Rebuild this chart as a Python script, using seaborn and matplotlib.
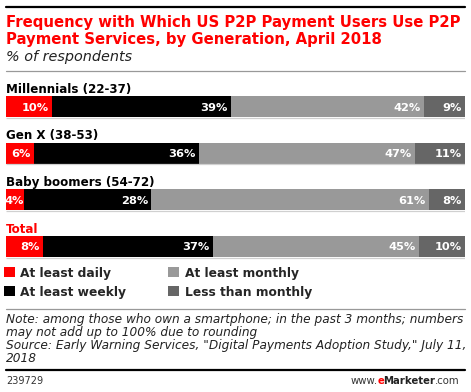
import numpy as np
import pandas as pd
import seaborn as sns
import matplotlib.pyplot as plt
from matplotlib.lines import Line2D
from matplotlib.patches import Patch

# data
groups = ["Millennials (22-37)", "Gen X (38-53)", "Baby boomers (54-72)", "Total"]
daily = [10, 6, 4, 8]
weekly = [39, 36, 28, 37]
monthly = [42, 47, 61, 45]
less_monthly = [9, 11, 8, 10]

series_names = ["At least daily", "At least weekly", "At least monthly", "Less than monthly"]
series_colors = ["#ff0000", "#000000", "#999999", "#666666"]

title_lines = ["Frequency with Which US P2P Payment Users Use P2P",
               "Payment Services, by Generation, April 2018"]
note_lines = ["Note: among those who own a smartphone; in the past 3 months; numbers",
              "may not add up to 100% due to rounding",
              "Source: Early Warning Services, \"Digital Payments Adoption Study,\" July 11,",
              "2018"]

W, H = 471, 392


def fy(y):
    # pixel row -> figure fraction
    return 1 - y / H


def fx(x):
    return x / W


sns.set_style("white")
plt.rcParams['font.family'] = ['DejaVu Sans']

fig = plt.figure(figsize=(W / 100, H / 100), dpi=100)

# header
fig.add_artist(Line2D([fx(6), fx(465)], [fy(7), fy(7)], color="black", lw=1.6))
for k, line in enumerate(title_lines):
    fig.text(fx(6), fy(26.8 + 17 * k), line, color="#ff0000", fontsize=10.75,
             fontweight="bold", ha="left", va="baseline")
fig.text(fx(6), fy(60.5), "% of respondents", fontsize=10.4, fontstyle="italic", color="#222222",
         ha="left", va="baseline")
fig.add_artist(Line2D([fx(6), fx(465)], [fy(70.5), fy(70.5)], color="#999999", lw=0.9))

# bars
df = pd.DataFrame({"group": groups, "daily": daily, "weekly": weekly,
                   "monthly": monthly, "less": less_monthly})
cols = ["daily", "weekly", "monthly", "less"]
shares = df[cols].div(df[cols].sum(axis=1), axis=0)
cum = shares.cumsum(axis=1)

top, bottom = 83.2, 269.8
ax = fig.add_axes([fx(6), fy(bottom), fx(465) - fx(6), (bottom - top) / H])
for col, color in reversed(list(zip(cols, series_colors))):
    sns.barplot(x=cum[col], y=df["group"], orient="h", color=color, saturation=1,
                width=0.45, order=groups, ax=ax, linewidth=0)

# faint shadow line under each bar
ax.hlines(np.arange(len(groups)) + 0.238, 0, 1, color="#d0d0d0", lw=0.9)

ax.set_xlim(0, 1)
ax.set_ylim(3.5, -0.5)
ax.axis("off")

for i, g in enumerate(groups):
    ax.text(0, i - 0.295, g, fontsize=8.6, fontweight="bold",
            color="#ff0000" if g == "Total" else "black", ha="left", va="baseline")
    for col in cols:
        # narrow segments get the label flush against the segment end
        pad = -2.2 if shares.loc[i, col] > 0.05 else -0.2
        ax.annotate(f"{df.loc[i, col]}%", xy=(cum.loc[i, col], i), xytext=(pad, 0),
                    textcoords="offset points", ha="right", va="center_baseline",
                    color="white", fontsize=8.2, fontweight="bold")

# legend
handles = [Patch(facecolor=c, edgecolor="none") for c in series_colors]
fig.legend(handles, series_names, loc="upper left", bbox_to_anchor=(fx(4), fy(266.5)),
           ncol=2, frameon=False, borderpad=0, borderaxespad=0,
           handlelength=0.9, handleheight=0.9, handletextpad=0.45,
           columnspacing=3.4, labelspacing=0.5,
           prop={"weight": "bold", "size": 8.8})

# footer
fig.add_artist(Line2D([fx(6), fx(465)], [fy(308.5), fy(308.5)], color="#999999", lw=0.9))
for k, line in enumerate(note_lines):
    fig.text(fx(6), fy(323 + 13 * k), line, fontsize=8.75, fontstyle="italic",
             color="#222222", ha="left", va="baseline")
fig.add_artist(Line2D([fx(6), fx(465)], [fy(370), fy(370)], color="black", lw=1.6))
fig.text(fx(6), fy(384.5), "239729", fontsize=7, color="#333333", ha="left", va="baseline")

t1 = fig.text(fx(351), fy(384.5), "www.", fontsize=7.3, color="#333333", ha="left", va="baseline")
t2 = plt.annotate("e", xy=(1, 0), xycoords=t1, xytext=(-0.5, 0), textcoords="offset points",
                  fontsize=7.3, color="#ff0000", fontweight="bold", va="bottom",
                  annotation_clip=False)
t3 = plt.annotate("Marketer", xy=(1, 0), xycoords=t2, xytext=(-0.5, 0), textcoords="offset points",
                  fontsize=7.3, color="#222222", fontweight="bold", va="bottom",
                  annotation_clip=False)
plt.annotate(".com", xy=(1, 0), xycoords=t3, xytext=(-0.5, 0), textcoords="offset points",
             fontsize=7.3, color="#333333", va="bottom", annotation_clip=False)

fig.savefig("out.png", dpi=100)
